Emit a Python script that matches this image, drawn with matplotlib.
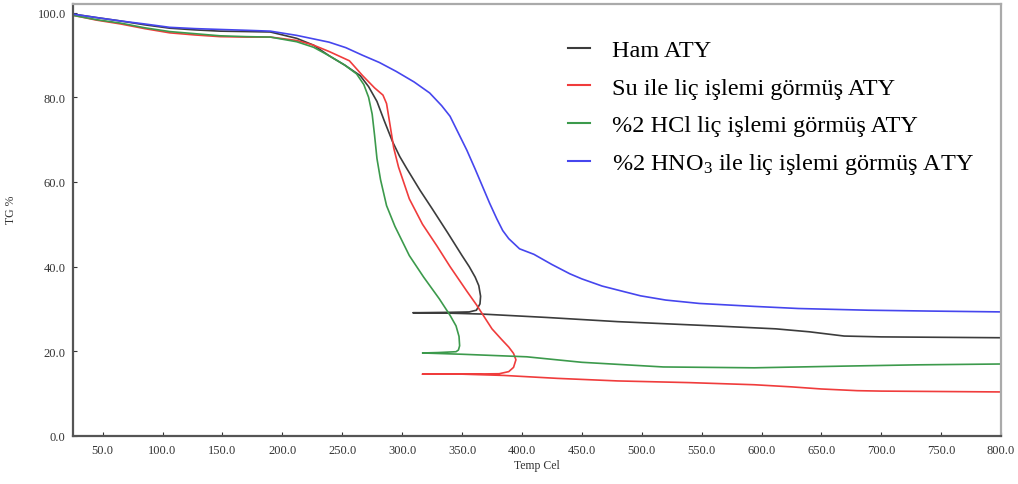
import matplotlib
matplotlib.use("Agg")
import matplotlib.pyplot as plt

# Ham ATY
ham_t = [26, 45, 65, 85, 106, 127, 148, 170, 190, 212, 226, 239, 252, 265, 272,
         279, 285, 292, 298, 304, 315, 325, 338, 350, 356, 361, 364, 365.5, 365,
         362, 356, 340, 309, 340, 366, 420, 480, 560, 612, 640, 669, 700, 750, 800]
ham_m = [99.6, 98.8, 98.0, 97.1, 96.3, 95.9, 95.6, 95.5, 95.4, 93.9, 92.3, 89.8,
         87.6, 85.1, 82.5, 79.0, 74.5, 69.5, 66.0, 63.1, 58.0, 53.7, 48.0, 42.6,
         40.0, 37.5, 35.5, 33.0, 31.2, 29.7, 29.3, 29.2, 29.1, 29.0, 28.8, 28.0,
         27.0, 26.0, 25.3, 24.6, 23.6, 23.4, 23.3, 23.2]

# Su ile liç
su_t = [26, 45, 65, 85, 106, 127, 148, 170, 190, 212, 226, 239, 256, 267, 277,
        284, 287, 290, 293, 297, 306, 317, 329, 340, 354, 362, 375, 383, 389,
        393, 395, 393, 389, 381, 350, 317, 350, 385, 430, 480, 540, 594, 625,
        650, 680, 700, 800]
su_m = [99.3, 98.2, 97.3, 96.2, 95.2, 94.7, 94.3, 94.2, 94.2, 93.4, 92.3, 90.8,
        88.6, 85.1, 82.2, 80.5, 78.5, 73.3, 68.0, 63.5, 56.0, 50.0, 44.9, 40.0,
        34.2, 31.0, 25.3, 22.8, 21.0, 19.5, 18.0, 16.2, 15.2, 14.7, 14.6, 14.6,
        14.6, 14.3, 13.6, 13.0, 12.6, 12.1, 11.6, 11.1, 10.7, 10.6, 10.4]

# %2 HCl liç
hcl_t = [26, 45, 65, 85, 106, 127, 148, 170, 190, 212, 226, 239, 252, 262, 268,
         272, 275, 277, 279, 282, 287, 294, 306, 318, 331, 340, 345, 347.5, 348,
         347, 345, 330, 317, 350, 404, 450, 518, 594, 669, 730, 800]
hcl_m = [99.3, 98.3, 97.5, 96.4, 95.5, 95.0, 94.5, 94.3, 94.2, 93.1, 91.8, 89.8,
         87.6, 85.5, 83.0, 80.0, 76.0, 71.0, 65.5, 60.5, 54.4, 49.5, 42.6, 37.5,
         32.4, 28.5, 26.0, 23.5, 21.3, 20.3, 19.9, 19.7, 19.6, 19.3, 18.7, 17.4,
         16.3, 16.1, 16.5, 16.8, 17.0]

# %2 HNO3 ile liç
hno3_t = [26, 45, 65, 85, 106, 127, 148, 170, 190, 212, 239, 253, 267, 281, 295,
          310, 323, 333, 340, 347, 354, 361, 367, 373, 379, 384, 389, 398, 410,
          425, 440, 450, 467, 485, 499, 520, 548, 594, 631, 689, 740, 800]
hno3_m = [99.6, 98.8, 98.0, 97.3, 96.5, 96.2, 96.0, 95.8, 95.6, 94.6, 93.0, 91.7,
          89.9, 88.2, 86.1, 83.6, 81.0, 78.0, 75.5, 71.5, 67.5, 63.0, 59.0, 55.0,
          51.3, 48.5, 46.6, 44.2, 42.9, 40.5, 38.3, 37.1, 35.4, 34.1, 33.1, 32.1,
          31.3, 30.6, 30.1, 29.7, 29.5, 29.3]

labels = ["Ham ATY", "Su ile liç işlemi görmüş ATY",
          "%2 HCl liç işlemi görmüş ATY", "%2 HNO$_3$ ile liç işlemi görmüş ATY"]
colors = ["#3c3c3c", "#f03c3c", "#3c9a4c", "#4646ee"]

plt.rcParams["font.family"] = ["Liberation Serif", "DejaVu Serif"]
plt.rcParams["mathtext.default"] = "regular"

fig = plt.figure(figsize=(10.18, 4.85), dpi=100)
ax = fig.add_axes([0.0714, 0.099, 0.912, 0.8906])

series = [(ham_t, ham_m), (su_t, su_m), (hcl_t, hcl_m), (hno3_t, hno3_m)]
for (t, m), lab, c in zip(series, labels, colors):
    ax.plot(t, m, color=c, lw=1.2, label=lab)

ax.set_xlim(25, 800)
ax.set_ylim(0, 102)
ax.set_xticks(range(50, 801, 50))
ax.set_yticks(range(0, 101, 20))
ax.set_xticklabels([f"{v:.1f}" for v in range(50, 801, 50)])
ax.set_yticklabels([f"{v:.1f}" for v in range(0, 101, 20)])
ax.tick_params(direction="in", length=3, width=0.8, labelsize=9,
               colors="#333333")
ax.tick_params(axis="x", pad=6)
ax.tick_params(axis="y", pad=5)

for s in ["left", "bottom"]:
    ax.spines[s].set_color("#555555")
    ax.spines[s].set_linewidth(1.6)
for s in ["top", "right"]:
    ax.spines[s].set_color("#aaaaaa")
    ax.spines[s].set_linewidth(1.6)

ax.set_xlabel("Temp Cel", fontsize=8.5, color="#333333", labelpad=2)
ax.set_ylabel("TG %", fontsize=8.5, color="#333333")
ax.yaxis.set_label_coords(-0.06, 0.525)

leg = ax.legend(loc="upper left", bbox_to_anchor=(0.5336, 0.918), frameon=False,
                fontsize=17.5, handlelength=0.9, handletextpad=0.9,
                labelspacing=0.63, borderpad=0, borderaxespad=0)
for h in leg.get_lines():
    h.set_linewidth(1.5)

fig.savefig("out.png", dpi=100)
